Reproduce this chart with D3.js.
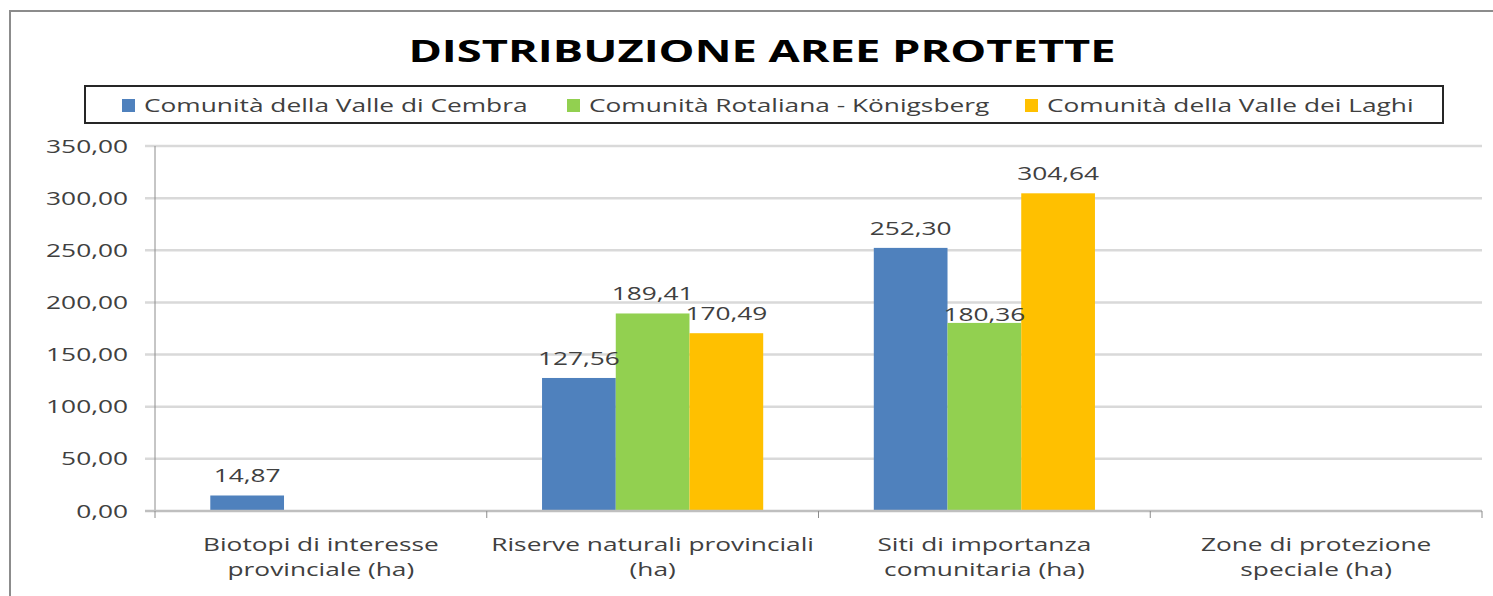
<!DOCTYPE html>
<html>
<head>
<meta charset="utf-8">
<script src="https://cdn.jsdelivr.net/npm/d3@7"></script>
<style>
  body { margin: 0; background: #fff; }
  svg { display: block; }
</style>
</head>
<body>
<div id="chart"></div>
<script>
// chart values
const categories = [
  "Biotopi di interesse|provinciale (ha)",
  "Riserve naturali provinciali|(ha)",
  "Siti di importanza|comunitaria (ha)",
  "Zone di protezione|speciale (ha)"
];
const seriesNames = [
  "Comunità della Valle di Cembra",
  "Comunità Rotaliana - Königsberg",
  "Comunità della Valle dei Laghi"
];
const cembra = [14.87, 127.56, 252.30, null];
const rotaliana = [null, 189.41, 180.36, null];
const laghi = [null, 170.49, 304.64, null];
const yTicks = [0, 50, 100, 150, 200, 250, 300, 350];
const colors = ["#4f81bd", "#92d050", "#ffc000"];

const W = 1493, H = 596;
const SX = 1.46; // the reference text is stretched sideways
const FONT = "'Open Sans', sans-serif";
const TXT = "#404040";

const it = d3.formatLocale({ decimal: ",", thousands: ".", grouping: [3], currency: ["€", ""] });
const fmt = it.format(".2f");

const svg = d3.select("#chart").append("svg")
  .attr("width", W)
  .attr("height", H);

// outer chart frame (runs past the right and bottom edges)
svg.append("rect")
  .attr("x", 10).attr("y", 11)
  .attr("width", W + 20).attr("height", H + 20)
  .attr("fill", "#fff")
  .attr("stroke", "#8c8c8c")
  .attr("stroke-width", 2);

// small helper: text anchored at (x,y), stretched horizontally
function label(parent, x, y, str, size, anchor, opts = {}) {
  return parent.append("text")
    .attr("transform", `translate(${x},${y}) scale(${SX},1)`)
    .attr("text-anchor", anchor)
    .attr("font-family", FONT)
    .attr("font-size", size)
    .attr("font-weight", opts.weight || 400)
    .attr("fill", opts.fill || TXT)
    .text(str);
}

// title
label(svg, 762, 62, "DISTRIBUZIONE AREE PROTETTE", 31, "middle", { weight: 700, fill: "#000" });

// legend
const legend = svg.append("g");
legend.append("rect")
  .attr("x", 85).attr("y", 86)
  .attr("width", 1358).attr("height", 37)
  .attr("fill", "#fff")
  .attr("stroke", "#262626")
  .attr("stroke-width", 2);
const legendX = [122, 567, 1025];
seriesNames.forEach((name, i) => {
  legend.append("rect")
    .attr("x", legendX[i]).attr("y", 99)
    .attr("width", 13).attr("height", 13)
    .attr("fill", colors[i]);
  label(legend, legendX[i] + 22, 112, name, 18, "start");
});

// plot area
const x0 = 155, x1 = 1482, yTop = 146, yBot = 511;

const x = d3.scaleBand()
  .domain(categories)
  .range([x0, x1])
  .padding(0);

// gap width 150% like the spreadsheet default
const xs = d3.scaleBand()
  .domain(d3.range(seriesNames.length))
  .range([0, x.bandwidth()])
  .paddingInner(0)
  .paddingOuter(0.75);

const y = d3.scaleLinear()
  .domain([0, 350])
  .range([yBot, yTop]);

// gridlines, also sticking out left of the axis as tick marks
svg.append("g")
  .selectAll("line")
  .data(yTicks.filter(d => d > 0))
  .join("line")
  .attr("x1", x0 - 10)
  .attr("x2", x1)
  .attr("y1", d => y(d))
  .attr("y2", d => y(d))
  .attr("stroke", "#d9d9d9")
  .attr("stroke-width", 2.5);

// y tick labels
const yLabels = svg.append("g");
yTicks.forEach(d => {
  label(yLabels, 128, y(d) + 6.5, fmt(d), 18, "end");
});

// y axis line
svg.append("line")
  .attr("x1", x0).attr("x2", x0)
  .attr("y1", yTop).attr("y2", yBot)
  .attr("stroke", "#8c8c8c")
  .attr("stroke-width", 1);

// bars
const series = [cembra, rotaliana, laghi];
const bars = svg.append("g");
series.forEach((vals, s) => {
  bars.selectAll(null)
    .data(categories.map((c, i) => ({ c, v: vals[i] })).filter(d => d.v != null))
    .join("rect")
    .attr("x", d => x(d.c) + xs(s))
    .attr("y", d => y(d.v))
    .attr("width", xs.bandwidth())
    .attr("height", d => y(0) - y(d.v))
    .attr("fill", colors[s]);
});

// value labels; one label sits lower in the reference
const labelNudge = { "2|1": 11 };
const valLabels = svg.append("g");
series.forEach((vals, s) => {
  vals.forEach((v, i) => {
    if (v == null) return;
    const dy = labelNudge[i + "|" + s] || 0;
    label(valLabels, x(categories[i]) + xs(s) + xs.bandwidth() / 2,
      y(v) - 13 + dy, fmt(v), 18, "middle");
  });
});

// x axis baseline and category ticks
svg.append("line")
  .attr("x1", x0 - 10).attr("x2", x1)
  .attr("y1", y(0)).attr("y2", y(0))
  .attr("stroke", "#bfbfbf")
  .attr("stroke-width", 2.5);
svg.append("g")
  .selectAll("line")
  .data(categories.map(c => x(c)).concat([x1]))
  .join("line")
  .attr("x1", d => d).attr("x2", d => d)
  .attr("y1", y(0)).attr("y2", y(0) + 7)
  .attr("stroke", "#8c8c8c")
  .attr("stroke-width", 1);

// category labels, two lines each
const catLabels = svg.append("g");
categories.forEach(c => {
  c.split("|").forEach((line, k) => {
    label(catLabels, x(c) + x.bandwidth() / 2, 551 + k * 24.5, line, 18, "middle");
  });
});
</script>
</body>
</html>
